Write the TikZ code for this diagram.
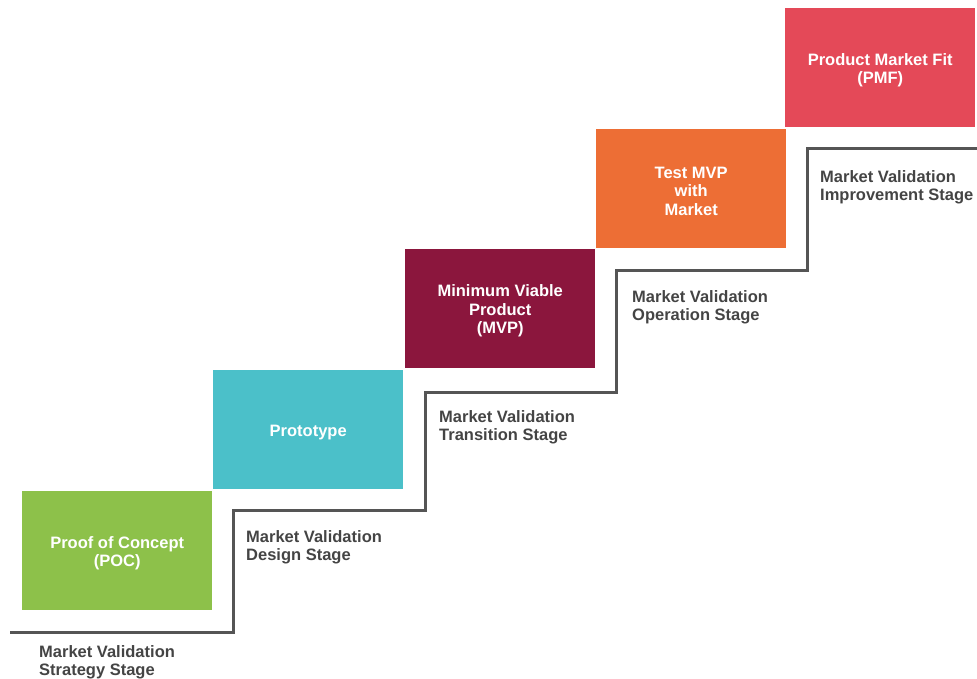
\documentclass[tikz,border=0pt]{standalone}
\usepackage{fontspec}
\setmainfont{Liberation Sans}
\definecolor{pocgreen}{RGB}{141,193,74}
\definecolor{prototeal}{RGB}{75,192,201}
\definecolor{mvpmaroon}{RGB}{139,22,61}
\definecolor{testorange}{RGB}{237,110,53}
\definecolor{pmfred}{RGB}{228,73,88}
\definecolor{stairgray}{RGB}{85,85,85}
\definecolor{labelgray}{RGB}{68,68,68}
\begin{document}
\begin{tikzpicture}[x=1pt,y=-1pt,
  stepbox/.style={fill=#1, minimum width=190pt, minimum height=119pt,
    inner sep=0pt, anchor=north west},
  boxtext/.style={text=white, font=\bfseries\fontsize{16.5}{18.5}\selectfont,
    align=center, inner sep=0pt, yshift=-2.5pt},
  stagelabel/.style={text=labelgray, font=\bfseries\fontsize{16.5}{18.5}\selectfont,
    align=left, inner sep=0pt, anchor=north west},
  stair/.style={draw=stairgray, line width=3pt}]
\useasboundingbox (0,0) rectangle (977,678);

% milestone boxes
\node[stepbox=pocgreen]    (poc)   at (22,491)  {};
\node[stepbox=prototeal]   (proto) at (213,370) {};
\node[stepbox=mvpmaroon]   (mvp)   at (405,249) {};
\node[stepbox=testorange]  (test)  at (596,129) {};
\node[stepbox=pmfred]      (pmf)   at (785,8)   {};

% milestone titles
\node[boxtext] (poctext)   at (poc.center)   {Proof of Concept\\(POC)};
\node[boxtext] (prototext) at (proto.center) {Prototype};
\node[boxtext] (mvptext)   at (mvp.center)   {Minimum Viable\\Product\\(MVP)};
\node[boxtext] (testtext)  at (test.center)  {Test MVP\\with\\Market};
\node[boxtext] (pmftext)   at (pmf.center)   {Product Market Fit\\(PMF)};

% staircase corners
\coordinate (s0) at (10,632);
\coordinate (s1) at (233,632);
\coordinate (s2) at (233,510);
\coordinate (s3) at (425,510);
\coordinate (s4) at (425,392);
\coordinate (s5) at (616,392);
\coordinate (s6) at (616,270);
\coordinate (s7) at (807,270);
\coordinate (s8) at (807,148);
\coordinate (s9) at (977,148);
\draw[stair] (s0) -- (s1) -- (s2) -- (s3) -- (s4) -- (s5) -- (s6) -- (s7) -- (s8) -- (s9);

% stage labels under each step
\node[stagelabel] (strategy)    at (39,645)  {Market Validation\\Strategy Stage};
\node[stagelabel] (design)      at (246,530) {Market Validation\\Design Stage};
\node[stagelabel] (transition)  at (439,410) {Market Validation\\Transition Stage};
\node[stagelabel] (operation)   at (632,290) {Market Validation\\Operation Stage};
\node[stagelabel] (improvement) at (820,170) {Market Validation\\Improvement Stage};
\end{tikzpicture}
\end{document}
